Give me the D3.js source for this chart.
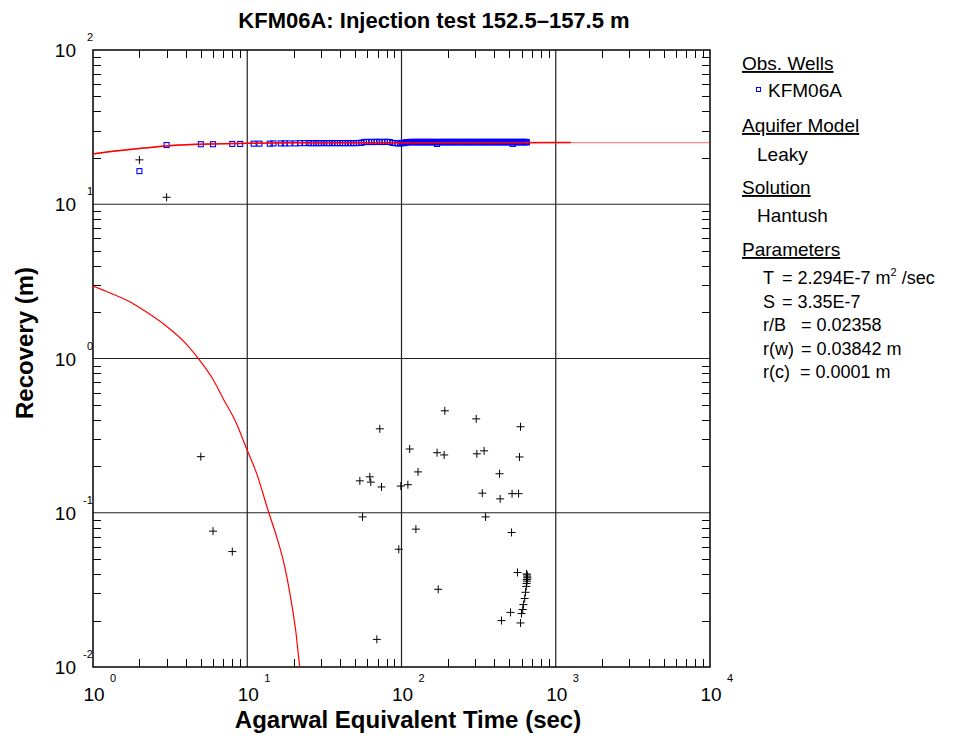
<!DOCTYPE html>
<html>
<head>
<meta charset="utf-8">
<script src="https://cdn.jsdelivr.net/npm/d3@7/dist/d3.min.js"></script>
<style>
  body { margin: 0; background: #fff; }
  text { font-family: Arial, "Liberation Sans", sans-serif; }
</style>
</head>
<body>
<div id="chart"></div>
<script>
// Recovery (blue squares): [Agarwal time (s), recovery (m)]
const recoveryObs = [
  [2, 16.4], [3, 24.2], [5, 24.5], [6, 24.5], [8, 24.6], [9, 24.6], [11, 24.7], [12, 24.7],
  [14, 24.7], [14.8, 24.8], [16.5, 24.8], [17.5, 24.8], [18.8, 24.8], [20.5, 24.8], [22, 24.9],
  [23.5, 24.9], [25, 24.9], [26, 24.9], [27, 24.9], [28, 24.9], [29, 24.9], [30, 24.9],
  [31.5, 24.9], [33, 24.9], [34, 24.9], [35.5, 24.9], [37, 24.9], [38.5, 24.9], [40, 24.9],
  [41.5, 24.9], [43, 24.9], [45, 24.9], [47, 24.9], [49, 24.9], [51, 24.9], [53, 25.0],
  [55, 25.0], [57, 25.3], [59, 25.4], [61.5, 25.3], [64, 25.4], [66.5, 25.3], [69, 25.4],
  [72, 25.4], [75, 25.3], [78, 25.4], [81, 25.4], [84, 25.3], [87.5, 25.0], [91, 24.9],
  [94.5, 24.8], [98, 24.8],
  [100, 25.0], [101.5, 24.9], [103, 24.9], [104.5, 25.0], [106, 25.1], [107.5, 25.2],
  [109, 25.3], [110.5, 25.2], [112, 25.3], [114, 25.4], [116, 25.3], [118, 25.2], [120, 25.4],
  [122, 25.3], [124, 25.2], [126, 25.4], [128, 25.3], [130, 25.2], [132, 25.4], [134, 25.3],
  [136, 25.2], [138, 25.4], [140, 25.3], [142, 25.2], [144, 25.4], [146, 25.3], [148, 25.2],
  [150, 25.4], [152.5, 25.3], [155, 25.2], [157.5, 25.4], [160, 25.3], [162.5, 25.2],
  [165, 25.4], [167.5, 25.3], [170, 24.6], [172.5, 25.2], [175, 25.4], [178, 25.3],
  [181, 25.2], [184, 25.4], [187, 25.3], [190, 25.2], [193, 25.4], [196, 25.3], [199, 25.2],
  [202, 25.4], [205, 25.3], [208, 25.2], [211, 25.4], [214, 25.3], [217, 25.2], [220, 25.4],
  [224, 25.3], [228, 25.2], [232, 25.4], [236, 25.3], [240, 25.2], [244, 25.4], [248, 25.3],
  [252, 25.2], [256, 25.4], [260, 25.3], [264, 25.2], [268, 25.4], [272, 25.3], [276, 25.2],
  [280, 25.4], [285, 25.3], [290, 25.2], [295, 25.4], [300, 25.3], [305, 25.2], [310, 25.4],
  [315, 25.3], [320, 25.2], [325, 25.4], [330, 25.3], [335, 25.2], [340, 25.4], [345, 25.3],
  [350, 25.2], [356, 25.4], [362, 25.3], [368, 25.2], [374, 25.4], [380, 25.3], [386, 25.2],
  [392, 25.4], [398, 25.3], [404, 25.2], [410, 25.4], [416, 25.3], [422, 25.2], [428, 25.4],
  [435, 25.3], [442, 25.2], [449, 25.4], [456, 25.3], [463, 25.2], [470, 25.4], [477, 25.3],
  [484, 25.2], [491, 25.4], [498, 25.3], [505, 25.2], [512, 25.4], [519, 25.3], [526, 24.6],
  [533, 25.2], [540, 25.4], [548, 25.3], [556, 25.2], [564, 25.4], [572, 25.3], [580, 25.2],
  [588, 25.4], [596, 25.3], [604, 25.2], [612, 25.4], [620, 25.3], [628, 25.2], [636, 25.4],
  [644, 25.3], [650, 25.2]
];

// Derivative (black crosses)
const derivObs = [
  [2, 19.4], [3, 11.1], [5, 0.231], [6, 0.076], [8, 0.056],
  [53.7, 0.161], [55.9, 0.094], [62.3, 0.171], [63.2, 0.158], [69.2, 0.0151], [72.3, 0.350],
  [74.2, 0.147], [96, 0.058], [99, 0.149], [110, 0.152], [113, 0.259], [124, 0.0783],
  [128, 0.184], [170, 0.245], [173, 0.0319], [189, 0.237], [191, 0.458], [305, 0.406],
  [308, 0.241], [334, 0.134], [343, 0.252], [351, 0.094], [432, 0.179], [436, 0.123],
  [445, 0.0200], [509, 0.0226], [517, 0.0745], [521, 0.133], [565, 0.0410], [574, 0.133],
  [582, 0.230], [591, 0.361], [591, 0.0193], [600, 0.0222], [611, 0.0236], [617, 0.0254],
  [629, 0.0278], [637, 0.0305], [644, 0.0333], [647, 0.0348], [650, 0.0369], [653, 0.0384],
  [647, 0.0401], [652, 0.0395], [655, 0.0378], [650, 0.0360]
];

// Hantush type curve (recovery) and its derivative
const fitCurve = [
  [1, 21.2], [1.5, 22.3], [2, 23.0], [3, 23.9], [4, 24.3], [5, 24.5], [7, 24.7], [10, 24.85],
  [20, 25.0], [100, 25.05], [1000, 25.1], [10000, 25.1]
];
const fitCurveEnd = 1250;
const fitDeriv = [
  [1, 2.95], [1.28, 2.67], [1.73, 2.33], [2.01, 2.13], [2.99, 1.62], [4.03, 1.24],
  [4.87, 0.986], [5.99, 0.733], [6.97, 0.551], [8.51, 0.379], [9.89, 0.261], [11.5, 0.18],
  [13.8, 0.1], [15.5, 0.0698], [17.1, 0.0493], [18.9, 0.03], [20.6, 0.0173], [21.9, 0.01],
  [22.6, 0.008]
];

const xDecades = [0, 1, 2, 3, 4];
const yDecades = [-2, -1, 0, 1, 2];

const legendItems = [
  { text: 'Obs. Wells', y: 70, x: 742, head: true },
  { text: 'KFM06A', y: 97, x: 768, marker: true },
  { text: 'Aquifer Model', y: 132, x: 742, head: true },
  { text: 'Leaky', y: 161, x: 757 },
  { text: 'Solution', y: 194, x: 742, head: true },
  { text: 'Hantush', y: 222, x: 757 },
  { text: 'Parameters', y: 256, x: 742, head: true }
];
const params = [
  { name: 'T', value: '= 2.294E-7 m', sup: '2', tail: ' /sec', gap: 782 },
  { name: 'S', value: '= 3.35E-7', gap: 782 },
  { name: 'r/B', value: '= 0.02358', gap: 801 },
  { name: 'r(w)', value: '= 0.03842 m', gap: 801 },
  { name: 'r(c)', value: '= 0.0001 m', gap: 800 }
];

const width = 960;
const height = 738;
const margin = { top: 50, right: 250, bottom: 71, left: 93 };

const svg = d3.select('#chart').append('svg')
  .attr('width', width)
  .attr('height', height);

const x = d3.scaleLog().domain([1, 10000]).range([margin.left, width - margin.right]);
const y = d3.scaleLog().domain([0.01, 100]).range([height - margin.bottom, margin.top]);

const [x0, x1] = x.range();
const [y1, y0] = y.range();

svg.append('clipPath').attr('id', 'clip')
  .append('rect').attr('x', x0).attr('y', y0).attr('width', x1 - x0).attr('height', y1 - y0);

/**
 * Minor ticks on all four sides, pointing inward
 */
const minors = [];
for (let d = 0; d < 4; d++) for (let m = 2; m <= 9; m++) minors.push(m * Math.pow(10, d));
const minorsY = [];
for (let d = -2; d < 2; d++) for (let m = 2; m <= 9; m++) minorsY.push(m * Math.pow(10, d));

const ticks = svg.append('g').attr('stroke', '#000').attr('stroke-width', 1);
const tl = 8;
minors.forEach((v) => {
  const px = Math.round(x(v)) + 0.5;
  ticks.append('line').attr('x1', px).attr('x2', px).attr('y1', y1).attr('y2', y1 - tl);
  ticks.append('line').attr('x1', px).attr('x2', px).attr('y1', y0).attr('y2', y0 + tl);
});
minorsY.forEach((v) => {
  const py = Math.round(y(v)) + 0.5;
  ticks.append('line').attr('x1', x0).attr('x2', x0 + tl).attr('y1', py).attr('y2', py);
  ticks.append('line').attr('x1', x1).attr('x2', x1 - tl).attr('y1', py).attr('y2', py);
});

// decade grid lines
const grid = svg.append('g').attr('stroke', '#222').attr('stroke-width', 1.2);
xDecades.slice(1, -1).forEach((d) => {
  const px = x(Math.pow(10, d));
  grid.append('line').attr('x1', px).attr('x2', px).attr('y1', y0).attr('y2', y1);
});
yDecades.slice(1, -1).forEach((d) => {
  const py = y(Math.pow(10, d));
  grid.append('line').attr('x1', x0).attr('x2', x1).attr('y1', py).attr('y2', py);
});

// frame
svg.append('rect')
  .attr('x', x0).attr('y', y0).attr('width', x1 - x0).attr('height', y1 - y0)
  .attr('fill', 'none').attr('stroke', '#000').attr('stroke-width', 1.5);

// tick labels
const labels = svg.append('g').attr('fill', '#000');
xDecades.forEach((d) => {
  const px = x(Math.pow(10, d));
  labels.append('text').attr('x', px + 1).attr('y', 701).attr('text-anchor', 'middle')
    .attr('font-size', 19).text('10');
  labels.append('text').attr('x', px + 17).attr('y', 682).attr('text-anchor', 'start')
    .attr('font-size', 11).text(d);
});
yDecades.forEach((d) => {
  const py = y(Math.pow(10, d));
  labels.append('text').attr('x', 76).attr('y', py + 7).attr('text-anchor', 'end')
    .attr('font-size', 19).text('10');
  labels.append('text').attr('x', d < 0 ? 83 : 87).attr('y', py - 9).attr('text-anchor', 'start')
    .attr('font-size', 11).text(d);
});

// curves
const line = d3.line()
  .x((d) => x(d[0]))
  .y((d) => y(d[1]))
  .curve(d3.curveMonotoneX);

const plot = svg.append('g').attr('clip-path', 'url(#clip)');

plot.append('path').datum(fitDeriv)
  .attr('d', line).attr('fill', 'none')
  .attr('stroke', '#ff0000').attr('stroke-width', 1.2);

// recovery squares
plot.append('g').selectAll('rect').data(recoveryObs).join('rect')
  .attr('x', (d) => x(d[0]) - 2.5)
  .attr('y', (d) => y(d[1]) - 2.5)
  .attr('width', 5).attr('height', 5)
  .attr('fill', 'none').attr('stroke', '#0000ff').attr('stroke-width', 1.1);

// fitted curve drawn over the squares
plot.append('path').datum(fitCurve)
  .attr('d', line).attr('fill', 'none')
  .attr('stroke', '#ff0000').attr('stroke-opacity', 0.45).attr('stroke-width', 1.3);
plot.append('path').datum(fitCurve.filter((d) => d[0] <= fitCurveEnd).concat([[fitCurveEnd, 25.1]]))
  .attr('d', line).attr('fill', 'none')
  .attr('stroke', '#ff0000').attr('stroke-width', 1.5);

// derivative crosses
plot.append('g').attr('stroke', '#000').attr('stroke-width', 1)
  .selectAll('path').data(derivObs).join('path')
  .attr('d', (d) => {
    const cx = x(d[0]);
    const cy = y(d[1]);
    return `M${cx - 4},${cy}H${cx + 4}M${cx},${cy - 4}V${cy + 4}`;
  });

// titles
svg.append('text').attr('x', 434).attr('y', 28).attr('text-anchor', 'middle')
  .attr('font-size', 22).attr('font-weight', 'bold')
  .text('KFM06A: Injection test 152.5\u2013157.5 m');
svg.append('text').attr('x', 408).attr('y', 728).attr('text-anchor', 'middle')
  .attr('font-size', 24).attr('font-weight', 'bold')
  .text('Agarwal Equivalent Time (sec)');
svg.append('text')
  .attr('transform', 'translate(33,343) rotate(-90)')
  .attr('text-anchor', 'middle')
  .attr('font-size', 24).attr('font-weight', 'bold')
  .text('Recovery (m)');

/**
 * Legend panel
 */
const legend = svg.append('g').attr('font-size', 19).attr('fill', '#000');
legendItems.forEach((it) => {
  const t = legend.append('text').attr('x', it.x).attr('y', it.y).text(it.text);
  if (it.head) t.attr('text-decoration', 'underline');
  if (it.marker) {
    legend.append('rect').attr('x', 756.5).attr('y', it.y - 9.5).attr('width', 4).attr('height', 4)
      .attr('fill', 'none').attr('stroke', '#0000ff').attr('stroke-width', 1);
  }
});
params.forEach((p, i) => {
  const py = 284 + i * 23.5;
  legend.append('text').attr('x', 763).attr('y', py).attr('font-size', 18).text(p.name);
  const t = legend.append('text').attr('x', p.gap).attr('y', py).attr('font-size', 18).text(p.value);
  if (p.sup) {
    t.append('tspan').attr('dy', -8).attr('font-size', 11).text(p.sup);
    t.append('tspan').attr('dy', 8).text(p.tail);
  }
});
</script>
</body>
</html>
